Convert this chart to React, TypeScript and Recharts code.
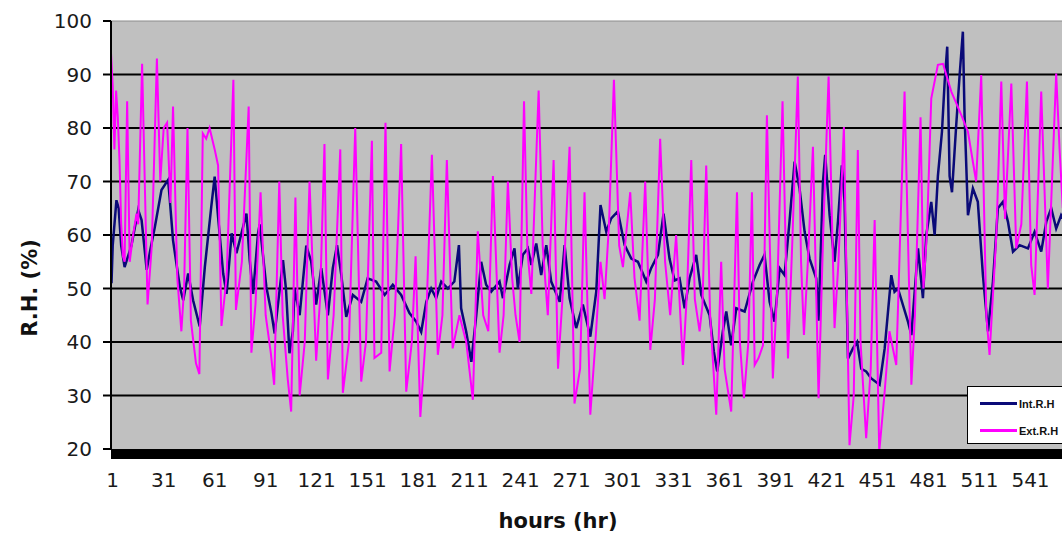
import React from 'react';
import {
  LineChart,
  Line,
  XAxis,
  YAxis,
  CartesianGrid,
  ReferenceLine,
  ReferenceArea,
} from 'recharts';

// hour positions and R.H. values (vertices of each trace)
const extHours = [
  0, 1, 2, 3, 4, 5, 6, 7, 8, 9.5, 11, 13, 15, 16, 18.3, 21.5, 24, 27, 29, 31,
  33, 35, 36.5, 39, 41.4, 43, 45, 47, 50, 52, 54, 56, 58, 61, 63, 65, 68, 72,
  73.5, 77, 81, 82.6, 85, 88, 91, 94, 96, 99, 101, 104, 106, 108.5, 111, 114,
  116.8, 120.7, 123, 125.6, 127.6, 131, 134.9, 136.4, 140, 143.7, 147.2, 150,
  153.5, 155, 159, 161.5, 163.9, 167, 170.7, 173.7, 177, 179.2, 182, 185,
  188.8, 192.3, 195, 197.6, 201, 205, 209, 212.9, 215.8, 219, 222, 224.7,
  228.6, 231, 233.5, 236, 238, 240.4, 243, 245, 247.3, 251.6, 254, 257, 260.4,
  263, 266, 269.8, 272.7, 276, 278.6, 282, 285, 288, 290.4, 293, 295.9, 299,
  301.2, 305.5, 308, 311, 314.3, 317.3, 320, 323.1, 326, 329, 332.5, 336.5,
  339, 341.4, 343.5, 346.3, 348, 350.2, 352.5, 356.1, 359, 361, 364.9, 368.3,
  370, 372.4, 375, 377.1, 378.7, 381, 383.6, 385.9, 389.4, 392, 395.1, 398.3,
  401, 404.1, 406, 407.7, 410, 413, 416.3, 419, 422.2, 425.7, 428, 431.2,
  434.5, 437, 439.4, 441, 444.3, 447, 449.3, 452, 455, 458, 462, 466.9, 470.9,
  473, 476.3, 478, 480, 482.6, 486.5, 489.5, 494.4, 500.3, 504.2, 509, 512,
  515, 516.9, 520.9, 523.8, 526, 529.7, 532.6, 535.6, 538.9, 541.4, 543.4,
  547.3, 551.2, 556.1, 558.1, 560,
];
const extValues = [
  94, 88, 76, 87, 82, 74, 62, 56, 55, 85, 55, 60, 64, 62, 92, 47, 58, 93, 70,
  80, 81, 66, 84, 52, 42, 50, 80, 44, 36, 34, 79, 78, 80, 76, 73, 43, 52, 89,
  46, 55, 84, 38, 47, 68, 45, 38, 32, 70, 45, 33, 27, 67, 30, 40, 70, 36.5,
  48, 77, 33, 45, 76, 30.5, 40, 80, 32.6, 40, 77.6, 37, 38, 81, 34.5, 45, 77,
  30.7, 40, 56, 26, 40, 75, 37.6, 45, 74, 38.8, 45, 40, 29.2, 60.7, 45, 42,
  71, 38, 45, 70, 52, 45, 40, 85, 57, 49, 87, 58, 45, 74, 35, 50, 76.5, 28.5,
  35, 68, 26.4, 40, 55, 48, 62, 89, 58, 54, 68, 52, 44, 70, 38.5, 48, 78, 55,
  45, 60, 35.7, 50, 74, 48, 42, 47, 73, 45, 26.4, 55, 35, 27, 68, 40, 29.5,
  40, 68, 35.7, 37, 39.4, 82.4, 33.2, 50, 85, 36.9, 60, 89.6, 55, 41.3, 55,
  76.5, 29.5, 60, 89.6, 42.6, 55, 80.2, 20.7, 30, 75.9, 40, 22, 35, 62.8,
  19.5, 30, 42, 35.7, 86.8, 32, 45, 82, 50, 60, 85.5, 91.8, 92, 86.8, 82.4,
  79.3, 70, 89.9, 45, 37.6, 60, 88.7, 63, 88.3, 57.5, 62, 88.7, 54.4, 48.8,
  86.8, 50, 90.2, 76, 65,
];

const intHours = [
  0.3, 1, 3.2, 4.5, 6, 8, 10, 12, 16, 18, 21, 23, 25.8, 29.7, 33.6, 34.5,
  36.5, 40.5, 42.5, 45.4, 48.3, 52.2, 55.2, 59, 61, 63, 66, 68, 71, 73.8,
  77.7, 79.7, 81.6, 83.6, 86.5, 87.5, 91.4, 94.4, 96.3, 101.2, 103, 105, 107,
  108, 111, 114.9, 117.8, 120.7, 123.7, 127.6, 130.5, 133, 135.5, 138.4,
  142.3, 147.2, 151, 156, 161, 165.8, 170.7, 175.6, 179.6, 182.5, 185.5,
  188.4, 191.3, 194.3, 198.2, 202, 204.7, 206, 209, 212, 214.9, 217.8, 220.7,
  223.7, 228.6, 230.6, 234.5, 237.4, 239.4, 242.3, 245.3, 247.3, 250.2,
  253.1, 256.1, 259, 264, 266.9, 269.8, 273.7, 277.6, 282, 285.5, 288, 291.4,
  294.3, 298.2, 302.2, 306.1, 310, 314.9, 317.8, 321.8, 325.1, 328.6, 331.6,
  334.5, 337.5, 340.4, 344.3, 347.3, 352.2, 354.7, 356.7, 360, 362, 364.9,
  367.9, 372.8, 377.7, 381.6, 384.5, 387.5, 390.4, 393.4, 396.3, 399.2,
  402.2, 405.1, 408.1, 411, 414.9, 416.3, 418.9, 420.2, 422.8, 425.7, 427.7,
  430, 431.6, 433.6, 436.5, 439, 441.4, 444.3, 447.3, 452.2, 455.2, 459.1,
  461, 463, 468.9, 470.9, 474.8, 477.7, 479.7, 482.6, 484.6, 486.5, 488.9,
  490.5, 492, 493.4, 494.8, 497.3, 499.3, 501.2, 502.2, 504.2, 507.1, 510,
  513, 516, 518.9, 521.8, 524.8, 527.7, 530.7, 534.6, 539.5, 543.4, 547.3,
  550.3, 553.2, 556.1, 559, 562,
];
const intValues = [
  51, 58, 66.5, 65, 58, 54, 56, 58, 64.7, 62.8, 53.5, 57, 61.5, 68.4, 70.3,
  67, 59, 50.3, 47.8, 52.8, 47.8, 42.9, 54, 65.3, 70.9, 63.4, 52.8, 49, 60.3,
  56.6, 61.5, 64, 55.3, 49, 60.3, 62, 50.3, 45.4, 41.6, 55.3, 49.7, 37.9, 42,
  50, 45, 58, 55, 47, 53.8, 45, 53.8, 58.1, 52.5, 44.7, 48.8, 47.5, 51.9,
  51.3, 48.8, 50.7, 48.8, 45.4, 43.8, 41.9, 47.5, 50, 48.2, 51.3, 50, 51.3,
  58.1, 46.3, 41.9, 36.3, 45, 55, 50.7, 49.4, 51.3, 48.2, 54.4, 57.5, 50,
  56.3, 57.5, 54.4, 58.4, 52.5, 58.1, 51.3, 47.5, 58.1, 48.2, 42.6, 47, 41,
  49.4, 65.6, 60.6, 63.1, 64.4, 58.1, 55.6, 55, 51.3, 53.8, 56.3, 64, 55.6,
  51.5, 51.9, 46.3, 51.9, 56.3, 48.8, 45, 38.2, 34.5, 42, 45.7, 39.4, 46.3,
  45.7, 51.3, 54.4, 56.3, 47.5, 43.8, 53.8, 52.5, 62.5, 73.7, 68.7, 60.6,
  55.6, 51.9, 44, 70, 75, 63.7, 55, 62.5, 73, 66.2, 36.9, 38.8, 40, 35, 34.5,
  33.2, 32, 38.8, 52.5, 49.4, 50, 43.8, 41.3, 57.5, 48.2, 60, 66.2, 60, 71,
  79.3, 88.7, 95.2, 71, 68, 80.6, 89.9, 98, 82.4, 63.7, 68.7, 66.2, 52.5, 42,
  51.3, 65, 66.2, 62.5, 56.9, 58.1, 57.5, 60.6, 56.9, 62.5, 65, 61.2, 63.7,
  62,
];

const xTicks = [1, 31, 61, 91, 121, 151, 181, 211, 241, 271, 301, 331, 361, 391, 421, 451, 481, 511, 541];
const yTicks = [20, 30, 40, 50, 60, 70, 80, 90, 100];
const gridValues = [30, 40, 50, 60, 70, 80, 90];

const intData = intHours.map((h, i) => ({ h, v: intValues[i] }));
const extData = extHours.map((h, i) => ({ h, v: extValues[i] }));

const INT_COLOR = '#0a0a78';
const EXT_COLOR = '#ff00ff';
const FONT = '"DejaVu Sans", Verdana, sans-serif';

function YTitle(props: any) {
  const { viewBox } = props;
  const cx = viewBox.x + 30;
  const cy = 288;
  return (
    <text
      x={cx}
      y={cy}
      transform={`rotate(-90, ${cx}, ${cy})`}
      textAnchor="middle"
      dominantBaseline="central"
      fontFamily={FONT}
      fontWeight="bold"
      fontSize={21}
      fill="#111"
    >
      R.H. (%)
    </text>
  );
}

function XTitle(props: any) {
  const { viewBox } = props;
  return (
    <text
      x={558}
      y={viewBox.y + 79}
      textAnchor="middle"
      fontFamily={FONT}
      fontWeight="bold"
      fontSize={21}
      fill="#111"
    >
      hours (hr)
    </text>
  );
}

function LegendBox() {
  const row = (color: string, label: string) => (
    <div style={{ display: 'flex', alignItems: 'center', height: 27 }}>
      <div style={{ width: 37, height: 3, background: color, marginLeft: 12 }} />
      <span
        style={{
          marginLeft: 2,
          fontFamily: '"Liberation Sans", Arial, sans-serif',
          fontWeight: 'bold',
          fontSize: 11,
          color: '#111',
          whiteSpace: 'nowrap',
        }}
      >
        {label}
      </span>
    </div>
  );
  return (
    <div
      style={{
        position: 'absolute',
        left: 967,
        top: 386,
        width: 110,
        height: 58,
        background: '#fff',
        border: '1.5px solid #000',
        paddingTop: 3,
        boxSizing: 'border-box',
      }}
    >
      {row(INT_COLOR, 'Int.R.H')}
      {row(EXT_COLOR, 'Ext.R.H')}
    </div>
  );
}

export default function App() {
  return (
    <div
      style={{
        position: 'absolute',
        left: 0,
        top: 0,
        width: 1062,
        height: 535,
        overflow: 'hidden',
        background: '#fff',
      }}
    >
      <LineChart
        width={1100}
        height={535}
        margin={{ top: 21, right: 10, left: 0, bottom: 0 }}
      >
        <CartesianGrid
          vertical={false}
          horizontalValues={gridValues}
          stroke="#000"
          strokeWidth={2}
          fill="#c0c0c0"
          fillOpacity={1}
        />
        <XAxis
          type="number"
          dataKey="h"
          domain={[0, 576]}
          ticks={xTicks}
          allowDataOverflow
          height={86}
          axisLine={false}
          tickLine={false}
          tickSize={0}
          tickMargin={24}
          interval={0}
          tick={{ fontFamily: FONT, fontSize: 20, fill: '#1a1a1a' }}
          label={<XTitle />}
        />
        <YAxis
          type="number"
          domain={[20, 100]}
          ticks={yTicks}
          allowDataOverflow
          width={111}
          axisLine={{ stroke: '#000', strokeWidth: 2 }}
          tickLine={{ stroke: '#000', strokeWidth: 2 }}
          tickSize={8}
          tickMargin={11}
          interval={0}
          tick={{ fontFamily: FONT, fontSize: 20, fill: '#1a1a1a' }}
          label={<YTitle />}
        />
        <ReferenceLine y={100} stroke="#8c8c8c" strokeWidth={1} />
        <ReferenceArea
          x1={0}
          x2={576}
          y1={18.13}
          y2={20}
          fill="#000"
          fillOpacity={1}
          stroke="none"
          ifOverflow="visible"
        />
        <Line
          data={intData}
          dataKey="v"
          type="linear"
          stroke={INT_COLOR}
          strokeWidth={2.5}
          dot={false}
          isAnimationActive={false}
        />
        <Line
          data={extData}
          dataKey="v"
          type="linear"
          stroke={EXT_COLOR}
          strokeWidth={2}
          dot={false}
          isAnimationActive={false}
        />
      </LineChart>
      <LegendBox />
    </div>
  );
}
